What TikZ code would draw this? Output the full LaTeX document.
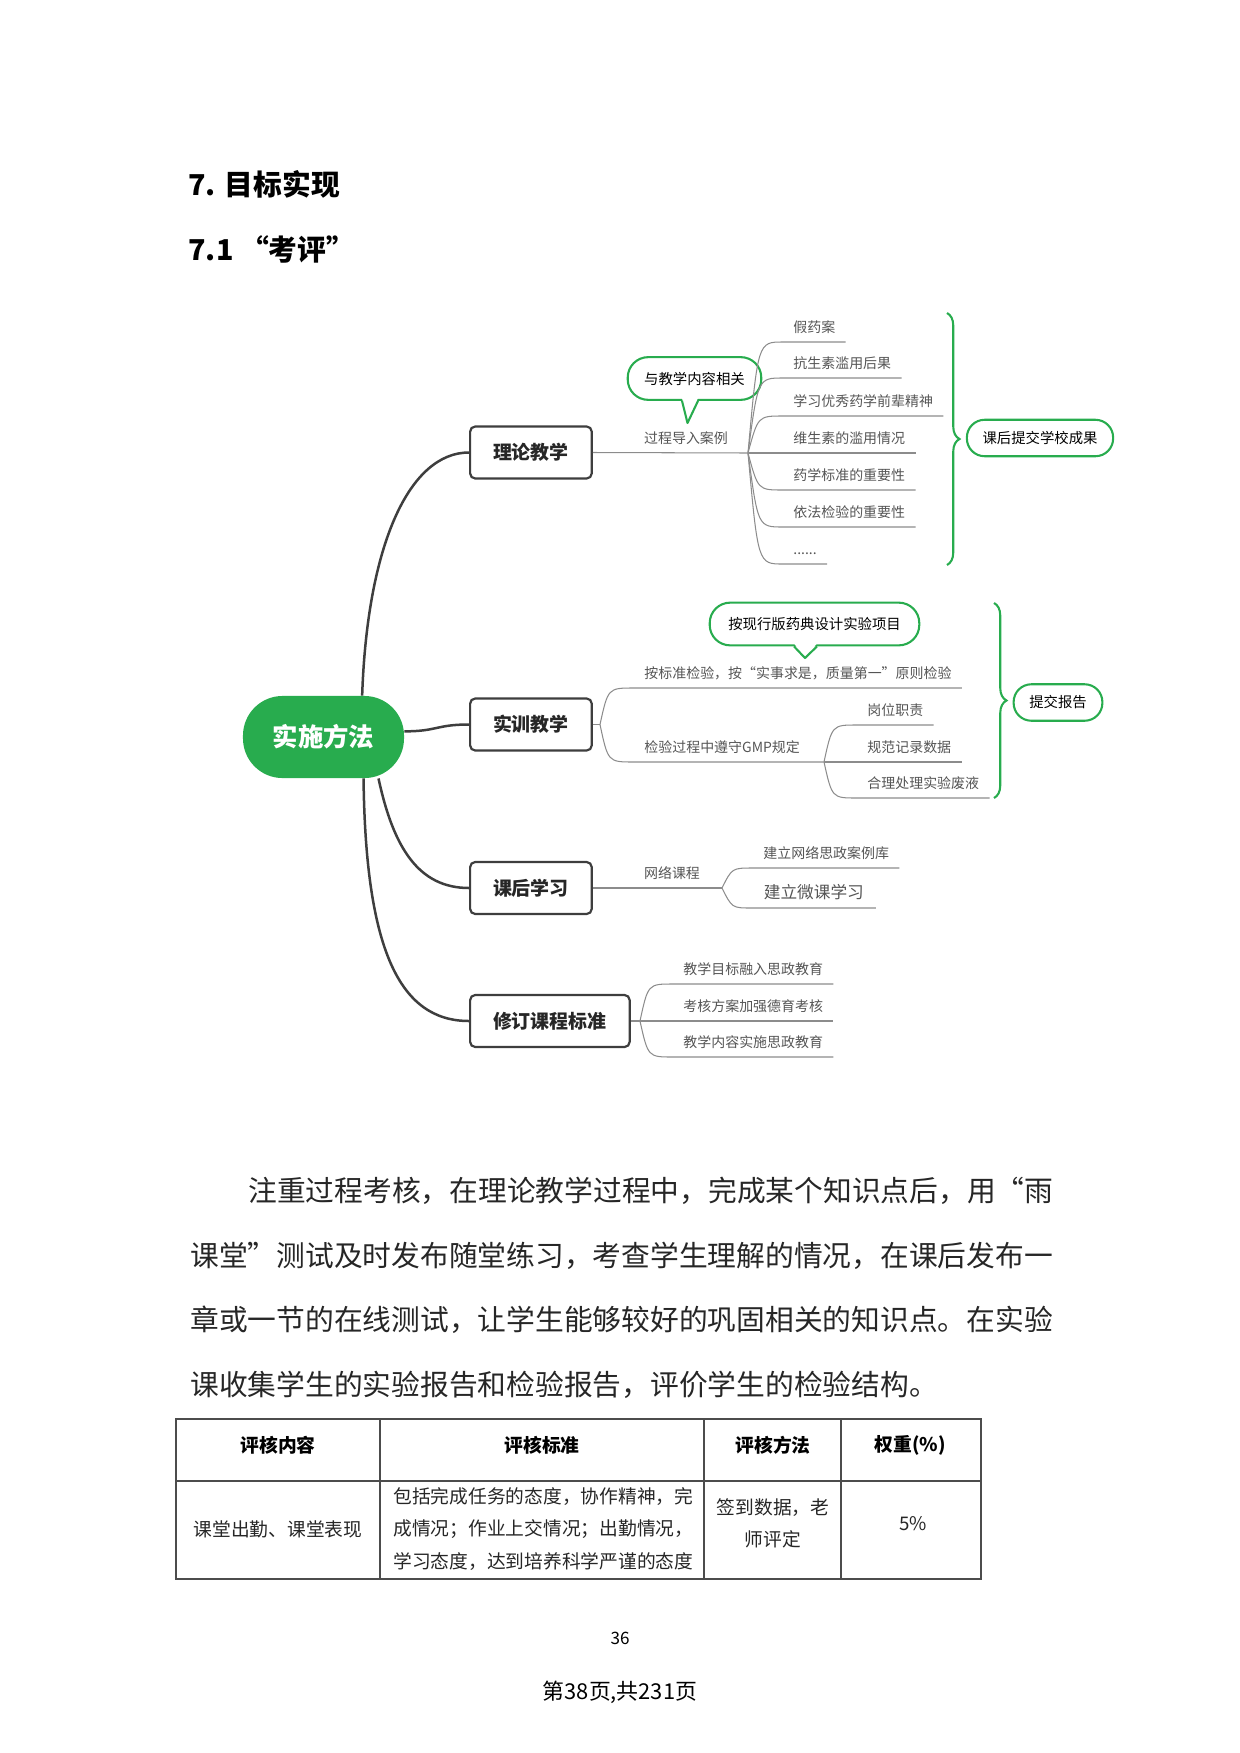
\documentclass[tikz,border=0pt]{standalone}
\usepackage{fontspec}
\setmainfont{Noto Sans CJK SC}
\usetikzlibrary{calc,positioning,decorations.pathreplacing}
\definecolor{xgreen}{RGB}{40,172,78}
\definecolor{linegray}{RGB}{62,62,62}
\definecolor{twiggray}{RGB}{140,140,140}
\definecolor{textgray}{RGB}{85,85,85}

\begin{document}
\begin{tikzpicture}[x=0.48pt,y=-0.48pt]
\tikzstyle{heading} = [anchor=west, inner sep=0pt, font=\fontsize{13.8}{16}\selectfont\bfseries]
\tikzstyle{para} = [anchor=west, inner sep=0pt, font=\fontsize{13.8}{16}\selectfont, text=black!85]
\tikzstyle{central} = [rectangle, rounded corners=19pt, fill=xgreen, text=white, minimum width=77.3pt, minimum height=39.4pt, font=\fontsize{12.2}{14}\selectfont\bfseries]
\tikzstyle{topic} = [rectangle, rounded corners=2.5pt, draw=linegray, line width=1.05pt, fill=white, anchor=west, minimum height=25pt, inner xsep=11pt, text=black!85, font=\fontsize{9.1}{11}\selectfont\bfseries]
\tikzstyle{leaf} = [anchor=south west, inner xsep=4.8pt, inner ysep=0pt, text height=5pt, text depth=4.6pt, text=textgray, font=\fontsize{6.7}{8}\selectfont]
\tikzstyle{midtext} = [inner sep=0pt, text=textgray, font=\fontsize{6.7}{8}\selectfont]
\tikzstyle{result} = [rectangle, rounded corners=8.5pt, draw=xgreen, line width=1pt, minimum height=17.5pt, inner xsep=7.5pt, font=\fontsize{6.9}{8}\selectfont]
\tikzstyle{callout} = [rectangle, rounded corners=9.8pt, draw=xgreen, line width=1pt, fill=white, minimum height=20.5pt, inner xsep=7.9pt, font=\fontsize{6.9}{8}\selectfont]
\tikzstyle{callline} = [xgreen, line width=1pt, line join=round]
\tikzstyle{branch} = [line width=1.2pt, draw=linegray]
\tikzstyle{twig} = [line width=0.5pt, draw=twiggray]
\tikzstyle{curly} = [xgreen, line width=1pt, decorate, decoration={brace, amplitude=6pt}]
\tikzstyle{tableline} = [line width=0.6pt, draw=black!70]
\tikzstyle{cellhead} = [inner sep=0pt, font=\fontsize{9}{11}\selectfont\bfseries]
\tikzstyle{cellbody} = [inner sep=0pt, text=black!85, font=\fontsize{9}{15.4}\selectfont]

\useasboundingbox (0,0) rectangle (1240,1753);

%headings
\node (h1) [heading] at (188,184) {7. 目标实现};
\node (h2) [heading] at (188,249) {7.1 “考评”};

%main nodes
\node (center) [central] at (323.5,737) {实施方法};
\node (theory) [topic] at (469,452.5) {理论教学};
\node (train) [topic] at (469,724.5) {实训教学};
\node (after) [topic] at (469,888) {课后学习};
\node (revise) [topic] at (469,1021) {修订课程标准};

%main curves
\draw [branch] (center.47) .. controls +(5,-150) and +(-60,0) .. (theory.west);
\draw [branch] (center.4) .. controls +(33,0) and +(-33,0) .. (train.west);
\draw [branch] (center.-37) .. controls +(15,70) and +(-50,0) .. (after.west);
\draw [branch] (center.-46) .. controls +(2,170) and +(-70,0) .. (revise.west);

%theory
\coordinate (bT) at (748,453);
\draw [twig] (theory.east) -- (bT);
\node (case) [midtext] at (686,438) {过程导入案例};
\node (relate) [callout] at (694.5,378.5) {与教学内容相关};
\coordinate (relatetip) at (687.5,423);
\fill [white] ($(relate.south)+(-12.5,-3)$) -- ($(relate.south)+(3.5,-3)$) -- (relatetip) -- cycle;
\draw [callline] ($(relate.south)+(-12.5,0)$) -- (relatetip) -- ($(relate.south)+(3.5,0)$);
\node (t1) [leaf] at (783,342) {假药案};
\node (t2) [leaf] at (783,378) {抗生素滥用后果};
\node (t3) [leaf] at (783,416) {学习优秀药学前辈精神};
\node (t4) [leaf] at (783,453) {维生素的滥用情况};
\node (t5) [leaf] at (783,490) {药学标准的重要性};
\node (t6) [leaf] at (783,527) {依法检验的重要性};
\node (t7) [leaf] at (783,564) {......};
\draw [twig] (bT) .. controls ($(bT|-t1.south)+(10,0)$) .. (t1.south west) -- (t1.south east);
\draw [twig] (bT) .. controls ($(bT|-t2.south)+(10,0)$) .. (t2.south west) -- (t2.south east);
\draw [twig] (bT) .. controls ($(bT|-t3.south)+(10,0)$) .. (t3.south west) -- (t3.south east);
\draw [twig] (bT) -- (t4.south west) -- (t4.south east);
\draw [twig] (bT) .. controls ($(bT|-t5.south)+(10,0)$) .. (t5.south west) -- (t5.south east);
\draw [twig] (bT) .. controls ($(bT|-t6.south)+(10,0)$) .. (t6.south west) -- (t6.south east);
\draw [twig] (bT) .. controls ($(bT|-t7.south)+(10,0)$) .. (t7.south west) -- (t7.south east);
\coordinate (cT1) at (947,313);
\coordinate (cT2) at (947,565);
\draw [curly] (cT1) -- (cT2);
\node (hand) [result] at (1040,438) {课后提交学校成果};

%training
\coordinate (bS) at (600,724.5);
\draw [twig] (train.east) -- (bS);
\node (design) [callout, inner xsep=8.9pt] at (814.5,624) {按现行版药典设计实验项目};
\coordinate (designtip) at (805,658);
\fill [white] ($(design.south)+(-20.5,-3)$) -- ($(design.south)+(2.5,-3)$) -- (designtip) -- cycle;
\draw [callline] ($(design.south)+(-20.5,0)$) -- (designtip) -- ($(design.south)+(2.5,0)$);
\node (s1) [leaf] at (634,688) {按标准检验，按“实事求是，质量第一”原则检验};
\node (s2) [leaf] at (634,762) {检验过程中遵守GMP规定};
\coordinate (bG) at (824,762);
\draw [twig] (bS) .. controls ($(bS|-s1.south)+(8,0)$) .. (s1.south west) -- (s1.south east);
\draw [twig] (bS) .. controls ($(bS|-s2.south)+(8,0)$) .. (s2.south west) -- (bG);
\node (g1) [leaf] at (857,725) {岗位职责};
\node (g2) [leaf] at (857,762) {规范记录数据};
\node (g3) [leaf] at (857,798) {合理处理实验废液};
\draw [twig] (bG) .. controls ($(bG|-g1.south)+(8,0)$) .. (g1.south west) -- (g1.south east);
\draw [twig] (bG) -- (g2.south west) -- (g2.south east);
\draw [twig] (bG) .. controls ($(bG|-g3.south)+(8,0)$) .. (g3.south west) -- (g3.south east);
\coordinate (cS1) at (994,603);
\coordinate (cS2) at (994,798);
\draw [curly] (cS1) -- (cS2);
\node (report) [result] at (1058,702.5) {提交报告};

%after class
\coordinate (bK) at (722,888);
\draw [twig] (after.east) -- (bK);
\node (net) [midtext] at (672,873) {网络课程};
\node (k1) [leaf] at (753,868) {建立网络思政案例库};
\node (k2) [leaf, inner xsep=5.5pt, font=\fontsize{8}{9}\selectfont] at (752,908) {建立微课学习};
\draw [twig] (bK) .. controls ($(bK|-k1.south)+(10,0)$) .. (k1.south west) -- (k1.south east);
\draw [twig] (bK) .. controls ($(bK|-k2.south)+(10,0)$) .. (k2.south west) -- (k2.south east);

%revise
\coordinate (bX) at (640,1021);
\draw [twig] (revise.east) -- (bX);
\node (x1) [leaf] at (673,984) {教学目标融入思政教育};
\node (x2) [leaf] at (673,1021) {考核方案加强德育考核};
\node (x3) [leaf] at (673,1057) {教学内容实施思政教育};
\draw [twig] (bX) .. controls ($(bX|-x1.south)+(8,0)$) .. (x1.south west) -- (x1.south east);
\draw [twig] (bX) -- (x2.south west) -- (x2.south east);
\draw [twig] (bX) .. controls ($(bX|-x3.south)+(8,0)$) .. (x3.south west) -- (x3.south east);

%paragraph
\node (p1) [para] at (248,1191) {注重过程考核，在理论教学过程中，完成某个知识点后，用“雨};
\node (p2) [para] at (190,1256) {课堂”测试及时发布随堂练习，考查学生理解的情况，在课后发布一};
\node (p3) [para] at (190,1320) {章或一节的在线测试，让学生能够较好的巩固相关的知识点。在实验};
\node (p4) [para] at (190,1385) {课收集学生的实验报告和检验报告，评价学生的检验结构。};

%table
\draw [tableline] (176,1419) rectangle (981,1579);
\draw [tableline] (380,1419) -- (380,1579);
\draw [tableline] (704,1419) -- (704,1579);
\draw [tableline] (841,1419) -- (841,1579);
\draw [tableline] (176,1481) -- (981,1481);
\node (c1) [cellhead] at (278,1445) {评核内容};
\node (c2) [cellhead] at (542,1445) {评核标准};
\node (c3) [cellhead] at (773,1445) {评核方法};
\node (c4) [cellhead] at (910,1445) {权重(\%)};
\node (d1) [cellbody] at (278,1529) {课堂出勤、课堂表现};
\node (d2) [cellbody, anchor=west, align=left] at (393,1529) {包括完成任务的态度，协作精神，完\\成情况；作业上交情况；出勤情况，\\学习态度，达到培养科学严谨的态度};
\node (d3) [cellbody, align=center] at (773,1523) {签到数据，老\\师评定};
\node (d4) [cellbody] at (913,1524) {5\%};

%page numbers
\node (pn) [inner sep=0pt, font=\fontsize{8.2}{10}\selectfont] at (620,1638) {36};
\node (pg) [inner sep=0pt, font=\fontsize{10.5}{12}\selectfont] at (620,1692) {第38页,共231页};
\end{tikzpicture}
\end{document}
